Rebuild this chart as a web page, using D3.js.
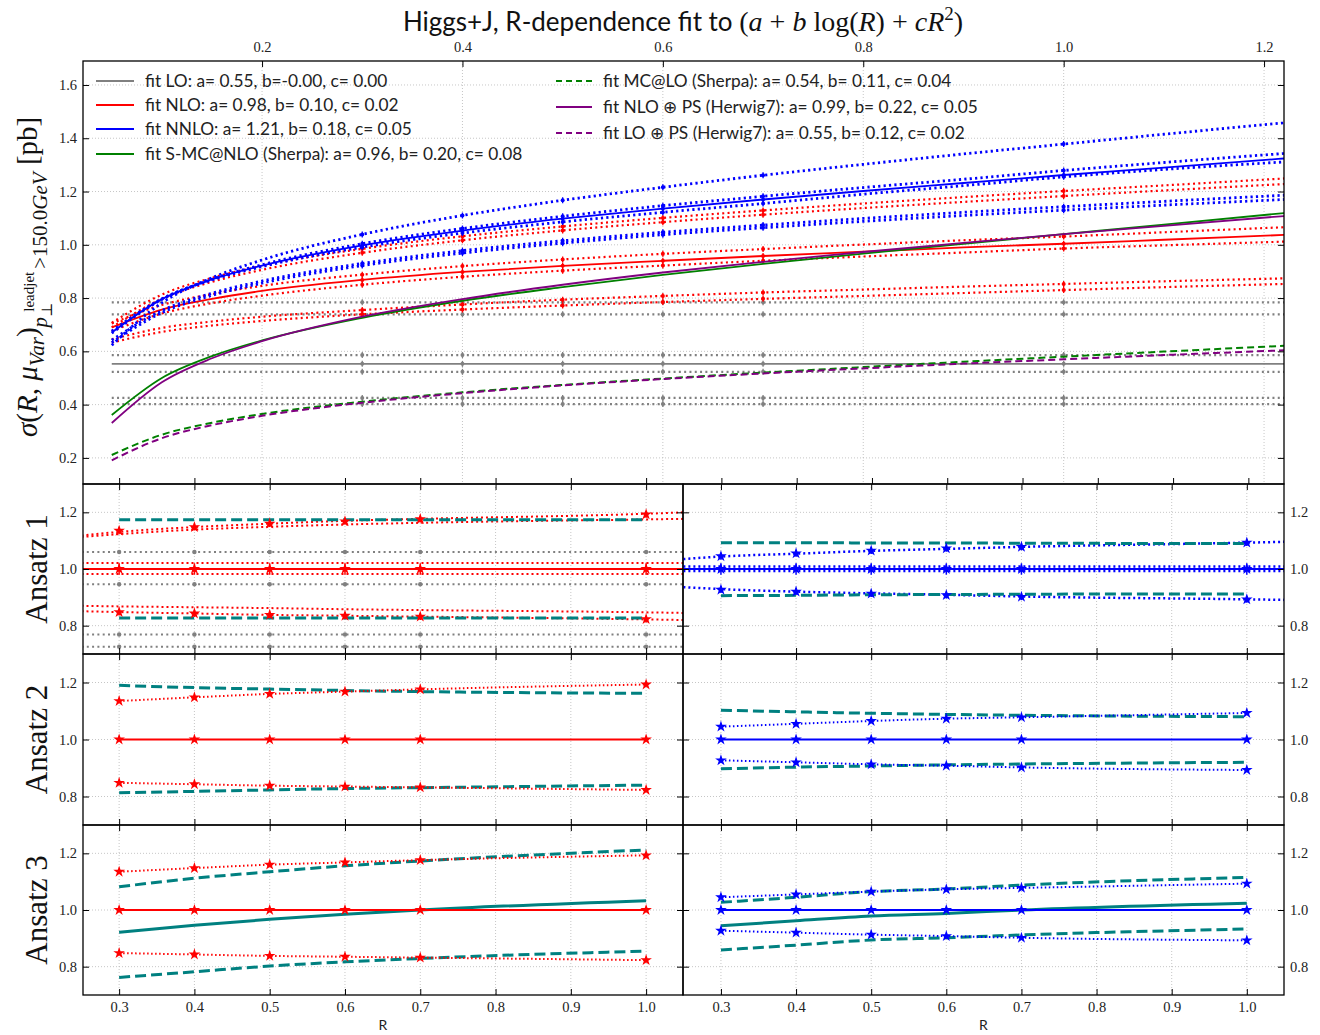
<!DOCTYPE html>
<html><head><meta charset="utf-8">
<script src="https://cdn.jsdelivr.net/npm/d3@7"></script>
<style>body{margin:0;background:#fff}svg{display:block}</style>
</head><body>
<svg id="chart" width="1320" height="1035"></svg>
<script>
// ---------------- DATA ----------------
const MAIN_R = [0.05,0.1,0.15,0.2,0.3,0.4,0.5,0.6,0.7,0.8,0.9,1.0,1.1,1.22];
const DATA_R = [0.3,0.4,0.5,0.6,0.7,1.0];
const FULL_R = [0.25,0.3,0.4,0.5,0.6,0.7,1.0,1.05];

const MAIN_TOP_TICKS = [0.2,0.4,0.6,0.8,1.0,1.2];
const MAIN_Y_TICKS = [0.2,0.4,0.6,0.8,1.0,1.2,1.4,1.6];
const MAIN_BOTTOM_TICKS = [0.3,0.4,0.5,0.6,0.7,0.8,0.9,1.0,1.1,1.2,1.3,1.4,1.5,1.6,1.7,1.8];
const LOW_X_TICKS = [0.3,0.4,0.5,0.6,0.7,0.8,0.9,1.0];
const LOW_Y_TICKS = [0.8,1.0,1.2];

// main panel fits (values at MAIN_R)
const fitLO      = [0.553,0.553,0.553,0.553,0.553,0.553,0.553,0.553,0.553,0.553,0.553,0.553,0.553,0.553];
const fitNLO     = [0.690,0.757,0.797,0.827,0.868,0.898,0.921,0.940,0.958,0.974,0.990,1.004,1.019,1.037];
const fitNNLO    = [0.671,0.796,0.870,0.922,0.998,1.053,1.098,1.136,1.170,1.202,1.232,1.262,1.290,1.324];
const fitSMCNLO  = [0.361,0.500,0.582,0.641,0.726,0.790,0.841,0.887,0.928,0.967,1.004,1.040,1.076,1.119];
const fitMCLO    = [0.211,0.287,0.332,0.365,0.411,0.446,0.474,0.498,0.520,0.541,0.561,0.580,0.599,0.621];
const fitNLOPS   = [0.331,0.484,0.574,0.638,0.730,0.796,0.850,0.896,0.936,0.973,1.007,1.040,1.071,1.108];
const fitLOPS    = [0.191,0.274,0.323,0.358,0.407,0.443,0.472,0.496,0.517,0.536,0.554,0.570,0.586,0.604];

// scale variations (dotted), values at MAIN_R
const nnloVar1 = [0.623,0.782,0.876,0.943,1.039,1.110,1.167,1.216,1.261,1.302,1.341,1.378,1.415,1.458];
const nnloVar2 = [0.668,0.795,0.871,0.925,1.004,1.061,1.107,1.147,1.182,1.215,1.246,1.279,1.309,1.343];
const nnloVar3 = [0.676,0.797,0.868,0.918,0.991,1.044,1.086,1.122,1.155,1.190,1.222,1.255,1.283,1.311];
const nnloVar4 = [0.642,0.753,0.818,0.864,0.930,0.978,1.015,1.047,1.074,1.099,1.122,1.143,1.163,1.186];
const nnloVar5 = [0.633,0.745,0.810,0.856,0.922,0.969,1.006,1.038,1.064,1.088,1.110,1.130,1.149,1.170];
const nloVar1  = [0.707,0.813,0.876,0.921,0.985,1.032,1.069,1.101,1.129,1.155,1.179,1.202,1.223,1.249];
const nloVar2  = [0.690,0.797,0.861,0.906,0.970,1.017,1.054,1.085,1.113,1.138,1.161,1.183,1.204,1.228];
const nloVar3  = [0.705,0.774,0.815,0.846,0.888,0.920,0.945,0.966,0.984,1.001,1.017,1.031,1.047,1.066];
const nloVar4  = [0.676,0.742,0.781,0.809,0.850,0.880,0.903,0.922,0.940,0.956,0.971,0.986,0.998,1.012];
const nloVar5  = [0.645,0.688,0.712,0.730,0.755,0.776,0.794,0.808,0.821,0.832,0.843,0.853,0.863,0.874];
const nloVar6  = [0.633,0.673,0.697,0.714,0.739,0.757,0.772,0.785,0.797,0.808,0.819,0.830,0.841,0.853];
const loVarLevels = [0.784,0.739,0.586,0.523,0.425,0.402];

// lower panels: ratios
const nloStarUp   = [1.135,1.148,1.160,1.168,1.176,1.193];
const nloStarDown = [0.848,0.843,0.838,0.835,0.832,0.823];
const nnloStarUp  = [1.045,1.055,1.065,1.073,1.078,1.093];
const nnloStarDown= [0.927,0.920,0.913,0.908,0.902,0.893];
const centralRatio= [1.0,1.0,1.0,1.0,1.0,1.0];

// Ansatz 1 fits (values at FULL_R)
const a1NloUpA = [1.118,1.131,1.148,1.160,1.170,1.177,1.195,1.200];
const a1NloUpB = [1.113,1.123,1.139,1.149,1.157,1.163,1.175,1.177];
const a1NloLoA = [0.870,0.868,0.865,0.862,0.858,0.855,0.847,0.845];
const a1NloLoB = [0.851,0.848,0.843,0.838,0.835,0.832,0.822,0.820];
const a1NloMidLevels = [1.021,0.982];
const a1LoLevels = [1.060,1.000,0.946,0.769,0.726];
const a1NnloUp = [1.035,1.044,1.054,1.064,1.071,1.078,1.093,1.096];
const a1NnloLo = [0.936,0.929,0.920,0.914,0.909,0.903,0.893,0.891];
const a1NnloMidLevels = [1.009,0.993];
const a1TealUpL = [1.174,1.174,1.174,1.174,1.174,1.174];
const a1TealLoL = [0.827,0.827,0.827,0.827,0.827,0.827];
const a1TealUpR = [1.093,1.093,1.092,1.092,1.091,1.090];
const a1TealLoR = [0.906,0.907,0.909,0.910,0.911,0.912];
// Ansatz 2 (values at DATA_R)
const a2TealUpL = [1.190,1.182,1.177,1.172,1.168,1.162];
const a2TealLoL = [0.813,0.818,0.823,0.828,0.831,0.840];
const a2TealUpR = [1.103,1.097,1.092,1.088,1.085,1.080];
const a2TealLoR = [0.897,0.903,0.907,0.911,0.914,0.920];
// Ansatz 3 (values at DATA_R)
const a3TealMidL = [0.921,0.946,0.967,0.985,1.000,1.033];
const a3TealUpL  = [1.082,1.112,1.135,1.156,1.173,1.212];
const a3TealLoL  = [0.762,0.782,0.802,0.817,0.829,0.855];
const a3TealMidR = [0.944,0.962,0.979,0.988,1.000,1.024];
const a3TealUpR  = [1.027,1.045,1.065,1.074,1.088,1.115];
const a3TealLoR  = [0.859,0.876,0.894,0.902,0.912,0.933];

const LEGEND_LEFT = ['fit LO: a= 0.55, b=-0.00, c= 0.00','fit NLO: a= 0.98, b= 0.10, c= 0.02','fit NNLO: a= 1.21, b= 0.18, c= 0.05','fit S-MC@NLO (Sherpa): a= 0.96, b= 0.20, c= 0.08'];
const LEGEND_RIGHT = ['fit MC@LO (Sherpa): a= 0.54, b= 0.11, c= 0.04','fit NLO \u2295 PS (Herwig7): a= 0.99, b= 0.22, c= 0.05','fit LO \u2295 PS (Herwig7): a= 0.55, b= 0.12, c= 0.02'];
const ANSATZ_LABELS = ['Ansatz 1','Ansatz 2','Ansatz 3'];

// ---------------- DRAWING ----------------
const SANS = "Lato, 'Open Sans', sans-serif";
const SERIF = "'Liberation Serif', 'DejaVu Serif', serif";
const C = {gray:'#808080', red:'#ff0000', blue:'#0000ff', green:'#008000', purple:'#800080', teal:'#008080', grid:'#b8b8b8'};
const svg = d3.select('#chart');
const fmt = d3.format('.1f');
const zip = (xs, ys) => xs.map((x,i)=>[x, ys[i]]);
const TICK_FS = 14.5;

const M = {l:83, r:1284, t:61, b:484};
const xMain = d3.scaleLinear().domain([0.0213,1.2199]).range([M.l,M.r]);
const yMain = d3.scaleLinear().domain([0.102,1.69]).range([M.b,M.t]);
const xLow = [d3.scaleLinear().domain([0.252,1.049]).range([83,683]),
              d3.scaleLinear().domain([0.2495,1.0495]).range([683,1284])];
const rows = [[484,654],[654,825],[825,995]];
const yLow = rows.map(r => d3.scaleLinear().domain([0.7,1.3]).range([r[1],r[0]]));

const defs = svg.append('defs');
defs.append('clipPath').attr('id','clipMain').append('rect').attr('x',M.l).attr('y',M.t).attr('width',M.r-M.l).attr('height',M.b-M.t);
for (let i=0;i<3;i++) for (let j=0;j<2;j++) {
  const xr = xLow[j].range();
  defs.append('clipPath').attr('id',`clip${i}${j}`).append('rect').attr('x',xr[0]).attr('y',rows[i][0]).attr('width',xr[1]-xr[0]).attr('height',rows[i][1]-rows[i][0]);
}

function styleAxis(g, size, font) {
  g.attr('font-family', font).attr('font-size', size);
  g.select('.domain').remove();
  g.selectAll('.tick line').attr('stroke','#000').attr('stroke-width',1);
  g.selectAll('.tick text').attr('fill','#222');
}

// ----- main panel -----
const gMain = svg.append('g');
const gridG = gMain.append('g').attr('stroke',C.grid).attr('stroke-width',0.8).attr('stroke-dasharray','1,2');
MAIN_TOP_TICKS.forEach(v=>gridG.append('line').attr('x1',xMain(v)).attr('x2',xMain(v)).attr('y1',M.t).attr('y2',M.b));
MAIN_Y_TICKS.forEach(v=>gridG.append('line').attr('x1',M.l).attr('x2',M.r).attr('y1',yMain(v)).attr('y2',yMain(v)));

const plot = gMain.append('g').attr('clip-path','url(#clipMain)');
const lineMain = d3.line().x(d=>xMain(d[0])).y(d=>yMain(d[1])).curve(d3.curveMonotoneX);
function mainCurve(vals, color, width, dash) {
  plot.append('path').attr('d', lineMain(zip(MAIN_R, vals))).attr('fill','none')
    .attr('stroke',color).attr('stroke-width',width).attr('stroke-dasharray',dash||null);
}
function mainMarkers(vals, color) {
  const pts = zip(MAIN_R, vals).filter(d => DATA_R.includes(d[0]));
  pts.forEach(d=>{
    plot.append('line').attr('x1',xMain(d[0])).attr('x2',xMain(d[0])).attr('y1',yMain(d[1])-3).attr('y2',yMain(d[1])+3).attr('stroke',color).attr('stroke-width',1.3);
    plot.append('circle').attr('cx',xMain(d[0])).attr('cy',yMain(d[1])).attr('r',2).attr('fill',color);
  });
}
const DOT = '2,3.3';
loVarLevels.forEach(l=>{ const v = MAIN_R.map(()=>l); mainCurve(v, C.gray, 2.2, DOT); mainMarkers(v, C.gray); });
mainCurve(fitLO, C.gray, 1.8); mainMarkers(fitLO, C.gray);
[nloVar5, nloVar6, nloVar3, nloVar4, nloVar1, nloVar2].forEach(v=>{ mainCurve(v, C.red, 2.2, DOT); mainMarkers(v, C.red); });
mainCurve(fitNLO, C.red, 1.8); mainMarkers(fitNLO, C.red);
[nnloVar4, nnloVar5, nnloVar2, nnloVar3, nnloVar1].forEach(v=>{ mainCurve(v, C.blue, 2.8, '2.2,3.2'); mainMarkers(v, C.blue); });
mainCurve(fitNNLO, C.blue, 1.8); mainMarkers(fitNNLO, C.blue);
mainCurve(fitSMCNLO, C.green, 1.8);
mainCurve(fitMCLO, C.green, 2, '7,4');
mainCurve(fitNLOPS, C.purple, 1.8);
mainCurve(fitLOPS, C.purple, 2, '7,4');

// main axes
svg.append('g').attr('transform',`translate(0,${M.t})`)
  .call(d3.axisTop(xMain).tickValues(MAIN_TOP_TICKS).tickSize(-6).tickPadding(9).tickFormat(fmt))
  .call(g=>styleAxis(g,TICK_FS,SERIF));
svg.append('g').attr('transform',`translate(${M.l},0)`)
  .call(d3.axisLeft(yMain).tickValues(MAIN_Y_TICKS).tickSize(-6).tickPadding(6).tickFormat(fmt))
  .call(g=>styleAxis(g,TICK_FS,SERIF));
svg.append('g').attr('transform',`translate(${M.r},0)`)
  .call(d3.axisRight(yMain).tickValues(MAIN_Y_TICKS).tickSize(-6).tickFormat(()=>''))
  .call(g=>styleAxis(g,TICK_FS,SERIF));
svg.append('g').attr('transform',`translate(0,${M.b})`)
  .call(d3.axisBottom(xLow[0]).tickValues(MAIN_BOTTOM_TICKS).tickSize(-6).tickFormat(()=>''))
  .call(g=>styleAxis(g,TICK_FS,SERIF));
svg.append('rect').attr('x',M.l).attr('y',M.t).attr('width',M.r-M.l).attr('height',M.b-M.t)
  .attr('fill','none').attr('stroke','#000').attr('stroke-width',1.3);

// legend
const leg = svg.append('g').attr('font-family',SANS).attr('font-size',17.3).attr('fill','#222');
const legLeftStyle = [[C.gray,null],[C.red,null],[C.blue,null],[C.green,null]];
const legRightStyle = [[C.green,'6,4'],[C.purple,null],[C.purple,'6,4']];
const legLeftY = [81,105,129,154], legRightY = [81,107,133];
LEGEND_LEFT.forEach((t,i)=>{
  leg.append('line').attr('x1',96).attr('x2',134).attr('y1',legLeftY[i]).attr('y2',legLeftY[i])
    .attr('stroke',legLeftStyle[i][0]).attr('stroke-width',2);
  leg.append('text').attr('x',145).attr('y',legLeftY[i]).attr('dy','0.35em').text(t);
});
LEGEND_RIGHT.forEach((t,i)=>{
  leg.append('line').attr('x1',556).attr('x2',592).attr('y1',legRightY[i]).attr('y2',legRightY[i])
    .attr('stroke',legRightStyle[i][0]).attr('stroke-width',2).attr('stroke-dasharray',legRightStyle[i][1]);
  leg.append('text').attr('x',603).attr('y',legRightY[i]).attr('dy','0.35em').text(t);
});

// title
const title = svg.append('text').attr('x',683).attr('y',31).attr('text-anchor','middle').attr('fill','#111');
title.append('tspan').attr('font-family',SANS).attr('font-size',26).text('Higgs+J, R-dependence fit to ');
const tm = [['(',0],['a',1],[' + ',0],['b',1],[' log(',0],['R',1],[') + ',0],['c',1],['R',1]];
tm.forEach(([s,it])=>title.append('tspan').attr('font-family',SERIF).attr('font-size',28).attr('font-style',it?'italic':'normal').text(s));
title.append('tspan').attr('font-family',SERIF).attr('font-size',19).attr('dy',-11).text('2');
title.append('tspan').attr('font-family',SERIF).attr('font-size',28).attr('dy',11).text(')');

// main y label
const yl = svg.append('text').attr('transform','translate(37,437) rotate(-90)').attr('font-family',SERIF).attr('fill','#111');
const ylParts = [
  ['\u03c3',29,1,0,0],['(',29,0,0,0],['R',29,1,0,0],[', ',29,0,0,0],['\u03bc',29,1,0,0],
  ['Var',21,1,7,0],[')',29,0,-7,0],['p',21,1,10,0],['\u22a5',15,0,5,0],['leadjet',15,0,-18,-9],
  ['>150.0',21,0,13,3],['GeV',21,1,0,0],[' [pb]',29,0,-10,0]];
ylParts.forEach(([s,fs,it,dy,dx])=>yl.append('tspan').attr('font-size',fs).attr('font-style',it?'italic':'normal')
  .attr('dy',dy||null).attr('dx',dx||null).text(s));

// ----- lower panels -----
const star = d3.symbol().type(d3.symbolStar).size(42);
for (let i=0;i<3;i++) for (let j=0;j<2;j++) {
  const xs = xLow[j], ys = yLow[i];
  const [x0,x1] = xs.range();
  const g = svg.append('g');
  const gg = g.append('g').attr('stroke',C.grid).attr('stroke-width',0.8).attr('stroke-dasharray','1,2');
  LOW_X_TICKS.forEach(v=>gg.append('line').attr('x1',xs(v)).attr('x2',xs(v)).attr('y1',rows[i][0]).attr('y2',rows[i][1]));
  LOW_Y_TICKS.forEach(v=>gg.append('line').attr('x1',x0).attr('x2',x1).attr('y1',ys(v)).attr('y2',ys(v)));
  const p = g.append('g').attr('clip-path',`url(#clip${i}${j})`);
  const ln = d3.line().x(d=>xs(d[0])).y(d=>ys(d[1])).curve(d3.curveMonotoneX);
  const path = (pts,color,w,dash)=>p.append('path').attr('d',ln(pts)).attr('fill','none').attr('stroke',color).attr('stroke-width',w).attr('stroke-dasharray',dash||null);
  const dots = (pts,color)=>pts.forEach(d=>p.append('circle').attr('cx',xs(d[0])).attr('cy',ys(d[1])).attr('r',2.2).attr('fill',color));
  const stars = (pts,color,err)=>pts.forEach(d=>{
    if (err) p.append('line').attr('x1',xs(d[0])).attr('x2',xs(d[0])).attr('y1',ys(d[1]+err)).attr('y2',ys(d[1]-err)).attr('stroke',color).attr('stroke-width',1.5);
    p.append('path').attr('d',star()).attr('transform',`translate(${xs(d[0])},${ys(d[1])})`).attr('fill',color);
  });
  const col = j===0 ? C.red : C.blue;
  const sUp = j===0 ? nloStarUp : nnloStarUp;
  const sDn = j===0 ? nloStarDown : nnloStarDown;
  const dotW = j===0 ? 2 : 2.5;
  if (i===0) {
    const flat = l => FULL_R.map(r=>[r,l]);
    if (j===0) {
      a1LoLevels.forEach(l=>{ path(flat(l),C.gray,2,DOT); dots(zip(DATA_R,DATA_R.map(()=>l)),C.gray); });
      [a1NloUpA,a1NloUpB,a1NloLoA,a1NloLoB].forEach(v=>path(zip(FULL_R,v),C.red,dotW,'2,3'));
      a1NloMidLevels.forEach(l=>path(flat(l),C.red,dotW,'2,3'));
      path(zip(DATA_R,a1TealUpL),C.teal,3,'11,5'); path(zip(DATA_R,a1TealLoL),C.teal,3,'11,5');
    } else {
      [a1NnloUp,a1NnloLo].forEach(v=>path(zip(FULL_R,v),C.blue,dotW,'2,3'));
      a1NnloMidLevels.forEach(l=>path(flat(l),C.blue,dotW,'2,3'));
      path(zip(DATA_R,a1TealUpR),C.teal,3,'11,5'); path(zip(DATA_R,a1TealLoR),C.teal,3,'11,5');
    }
    path(flat(1.0),col,2.2);
    stars(zip(DATA_R,sUp),col,0.012); stars(zip(DATA_R,sDn),col,0.012); stars(zip(DATA_R,centralRatio),col,0.02);
  } else {
    const up = i===1 ? (j===0?a2TealUpL:a2TealUpR) : (j===0?a3TealUpL:a3TealUpR);
    const lo = i===1 ? (j===0?a2TealLoL:a2TealLoR) : (j===0?a3TealLoL:a3TealLoR);
    path(zip(DATA_R,up),C.teal,3,'11,5'); path(zip(DATA_R,lo),C.teal,3,'11,5');
    if (i===2) path(zip(DATA_R, j===0?a3TealMidL:a3TealMidR),C.teal,3);
    path(zip(DATA_R,sUp),col,2,'1.5,2.5'); path(zip(DATA_R,sDn),col,2,'1.5,2.5');
    path(zip(DATA_R,centralRatio),col,2);
    stars(zip(DATA_R,sUp),col); stars(zip(DATA_R,sDn),col); stars(zip(DATA_R,centralRatio),col);
  }
  // axes
  g.append('g').attr('transform',`translate(0,${rows[i][1]})`)
    .call(d3.axisBottom(xs).tickValues(LOW_X_TICKS).tickSize(-6).tickPadding(7).tickFormat(i===2?fmt:()=>''))
    .call(a=>styleAxis(a,TICK_FS,SERIF));
  g.append('g').attr('transform',`translate(0,${rows[i][0]})`)
    .call(d3.axisTop(xs).tickValues(LOW_X_TICKS).tickSize(-6).tickFormat(()=>''))
    .call(a=>styleAxis(a,TICK_FS,SERIF));
  g.append('g').attr('transform',`translate(${x0},0)`)
    .call(d3.axisLeft(ys).tickValues(LOW_Y_TICKS).tickSize(-6).tickPadding(6).tickFormat(j===0?fmt:()=>''))
    .call(a=>styleAxis(a,TICK_FS,SERIF));
  g.append('g').attr('transform',`translate(${x1},0)`)
    .call(d3.axisRight(ys).tickValues(LOW_Y_TICKS).tickSize(-6).tickPadding(6).tickFormat(j===1?fmt:()=>''))
    .call(a=>styleAxis(a,TICK_FS,SERIF));
  g.append('rect').attr('x',x0).attr('y',rows[i][0]).attr('width',x1-x0).attr('height',rows[i][1]-rows[i][0])
    .attr('fill','none').attr('stroke','#000').attr('stroke-width',1.3);
  if (i===2) svg.append('text').attr('x',(x0+x1)/2).attr('y',1030).attr('text-anchor','middle')
    .attr('font-family',SANS).attr('font-size',14).attr('fill','#222').text('R');
}
ANSATZ_LABELS.forEach((t,i)=>{
  svg.append('text').attr('transform',`translate(47,${(rows[i][0]+rows[i][1])/2}) rotate(-90)`)
    .attr('text-anchor','middle').attr('font-family',SERIF).attr('font-size',31).attr('fill','#111').text(t);
});
</script>
</body></html>
